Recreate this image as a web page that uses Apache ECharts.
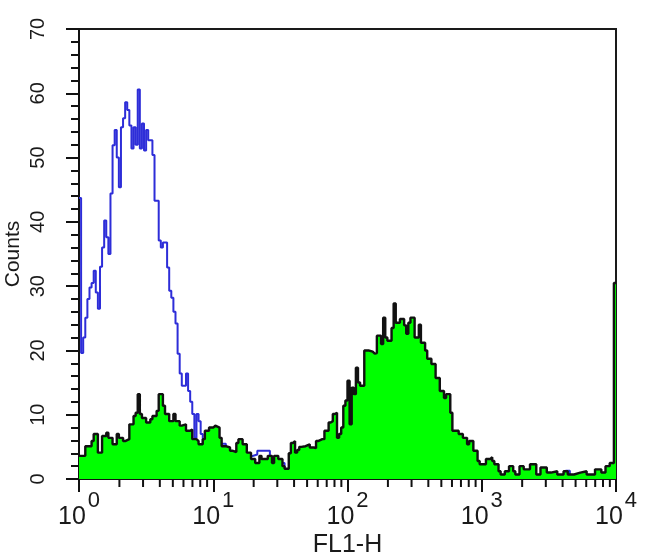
<!DOCTYPE html>
<html>
<head>
<meta charset="utf-8">
<script src="https://cdn.jsdelivr.net/npm/echarts@6/dist/echarts.min.js"></script>
<style>
html,body{margin:0;padding:0;background:#fff;}
#chart{width:650px;height:559px;}
</style>
</head>
<body>
<div id="chart"></div>
<script>
// Channel numbers (256 channels over 4 decades) and counts
const blueChannels = [0,1,2,3,4,5,6,7,8,9,10,11,12,13,14,15,16,17,18,19,20,21,22,23,24,25,26,27,28,29,30,31,32,33,34,35,36,37,38,39,40,41,42,43,44,45,46,47,48,49,50,51,52,53,54,55,56,57,58,59,61,63,66,70,74,78,82,85,91,94,98,102,110,120,130,150,180,200,220,232,234,240,256];
const blueCounts = [43.7,19.6,22,25.1,28,29.8,30.5,32.4,29,26.5,33,36,40.2,37.6,35,44.4,51.9,54.3,50,45.4,54.7,56.1,58.6,57.4,55,51.4,54.7,52,60.6,51.4,55.3,51.1,54.3,52.7,52.7,50.4,43.3,43.3,37.1,36,36.8,36.8,32.9,29.3,28.2,26,24.2,19.5,16.4,14.5,14.5,16.4,13.7,12,10.1,6.4,10.1,9,7,5,4.5,3.5,5.5,4,3.5,3.5,3.8,4.4,3,2.5,1.2,2.5,1.5,1.5,1,0.8,0.6,0.4,0.5,1.3,0.6,0.4,0.4];

const greenChannels = [0,1,3,6,7,9,11,13,14,16,18,19,21,22,24,26,27,28,29,30,32,34,35,37,38,40,41,43,45,46,48,49,51,53,54,56,57,59,60,62,64,65,67,68,70,72,73,75,76,78,80,82,84,86,87,90,92,93,95,97,98,100,101,102,103,104,105,106,108,110,112,113,114,116,117,118,119,120,121,122,123,124,125,126,127,128,129,130,131,132,133,134,136,138,140,141,142,144,145,146,147,149,150,151,153,155,156,157,158,160,162,163,165,166,168,170,172,174,175,177,178,181,183,185,186,188,190,191,193,194,196,197,198,200,201,203,205,207,208,210,212,215,218,220,223,225,228,231,233,236,239,242,246,249,251,253,255,256];
const greenCounts = [3.6,3.6,5.1,5.9,7,4.1,6.7,7.2,6.4,5.4,7,6.4,5.9,6.2,8.5,9.8,10.3,13.2,10.1,9.5,8.8,9.3,9.8,10.6,13.2,11.4,10.1,9,10.1,9,8.3,8.5,7.5,7.7,6.2,5.9,5.4,6.2,7.5,8,8.3,8,6.4,5.1,4.9,4.4,4.2,5.6,6.2,5.4,4.1,3.1,2.5,3.6,3.1,3.6,2.5,3.6,3.1,2,1.6,4,5.6,5.9,4.1,4.5,5,5.1,5.4,4.9,4.8,5.9,6.2,6.2,7.5,7.5,8.8,9,10.1,10.3,6.4,7,8,11.4,12.2,15.3,8.5,14.2,13.2,17.3,15,14.5,20,19.8,19.5,19.6,22.3,21,25.1,22,21.5,23.5,27.3,24.3,24.9,23.9,22.6,24.3,25.1,22,24,21.2,20,18.7,17.9,15.7,13.7,12.6,13.2,10.3,7.5,7,6.4,5.4,5.9,4.4,2.8,2.3,2.3,3.1,3.4,2.8,2.3,1.2,0.7,1.2,2,1.2,0.7,2,1.5,2.3,0.7,1.8,1,1.2,0.7,1.2,0.7,1,1.2,0.7,1.5,1,2,2.5,30.5,30.5];

const channelsPerDecade = 64;
const xMin = 1, xMax = 10000;
const yMin = 0, yMax = 70, yStep = 10;
const xMinorTickValues = [2,3,4,5,6,7,8,9,20,30,40,50,60,70,80,90,200,300,400,500,600,700,800,900,2000,3000,4000,5000,6000,7000,8000,9000];
const xAxisTitle = 'FL1-H';
const yAxisTitle = 'Counts';

const toFL = ch => Math.pow(10, ch / channelsPerDecade);
const blueData = blueChannels.map((c, i) => [toFL(c), blueCounts[i]]);
const greenData = greenChannels.map((c, i) => [toFL(c), greenCounts[i]]);

const chart = echarts.init(document.getElementById('chart'), null, {renderer: 'canvas'});
const txt = '#1a1a1a';
chart.setOption({
  animation: false,
  backgroundColor: '#ffffff',
  grid: {left: 79, right: 34, top: 29, bottom: 80, containLabel: false, outerBoundsMode: 'none',
         show: true, borderColor: '#1a1a1a', borderWidth: 2, backgroundColor: 'transparent'},
  xAxis: {
    type: 'log', logBase: 10, min: xMin, max: xMax,
    name: xAxisTitle, nameLocation: 'middle', nameGap: 54, nameMoveOverlap: false,
    nameTextStyle: {fontFamily: 'Liberation Sans', fontSize: 25, color: txt},
    axisLine: {show: true, lineStyle: {color: '#111', width: 2}},
    axisTick: {show: true, inside: false, length: 13, lineStyle: {color: '#111', width: 2}},
    splitLine: {show: false},
    axisLabel: {
      margin: 11, color: txt,
      formatter: v => '{b|10}{s|' + Math.round(Math.log10(v)) + '}',
      rich: {
        b: {fontFamily: 'Liberation Sans Narrow, Liberation Sans', fontSize: 25, lineHeight: 40, verticalAlign: 'bottom', color: txt},
        s: {fontFamily: 'Liberation Sans Narrow, Liberation Sans', fontSize: 22, lineHeight: 22, verticalAlign: 'top', color: txt, padding: [0, 0, 0, 2]}
      }
    }
  },
  yAxis: {
    type: 'value', min: yMin, max: yMax, interval: yStep,
    name: yAxisTitle, nameLocation: 'middle', nameGap: 55, nameRotate: 90, nameMoveOverlap: false,
    nameTextStyle: {fontFamily: 'Liberation Sans', fontSize: 21, color: txt},
    axisLine: {show: true, lineStyle: {color: '#111', width: 2}},
    axisTick: {show: true, inside: false, length: 13, lineStyle: {color: '#111', width: 2}},
    minorTick: {show: true, splitNumber: 5, length: 8, lineStyle: {color: '#111', width: 2}},
    splitLine: {show: false},
    minorSplitLine: {show: false},
    axisLabel: {rotate: 90, margin: 31, fontFamily: 'Liberation Sans', fontSize: 20, color: txt}
  },
  series: [
    {
      type: 'line', step: 'end', data: blueData, showSymbol: false, symbol: 'none',
      lineStyle: {color: '#2d2dd8', width: 2}, z: 2
    },
    {
      type: 'line', step: 'end', data: greenData, showSymbol: false, symbol: 'none',
      lineStyle: {color: '#111', width: 2.4},
      areaStyle: {color: '#00ff00', opacity: 1},
      z: 3
    },
    {
      type: 'custom', clip: false, silent: true, z: 5,
      data: xMinorTickValues.map(v => [v, 0]),
      encode: {x: 0, y: 1},
      renderItem: (params, api) => {
        const p = api.coord([api.value(0), 0]);
        return {type: 'line', shape: {x1: p[0], y1: p[1], x2: p[0], y2: p[1] + 8},
                style: {stroke: '#111', lineWidth: 2}};
      }
    }
  ]
});
</script>
</body>
</html>
